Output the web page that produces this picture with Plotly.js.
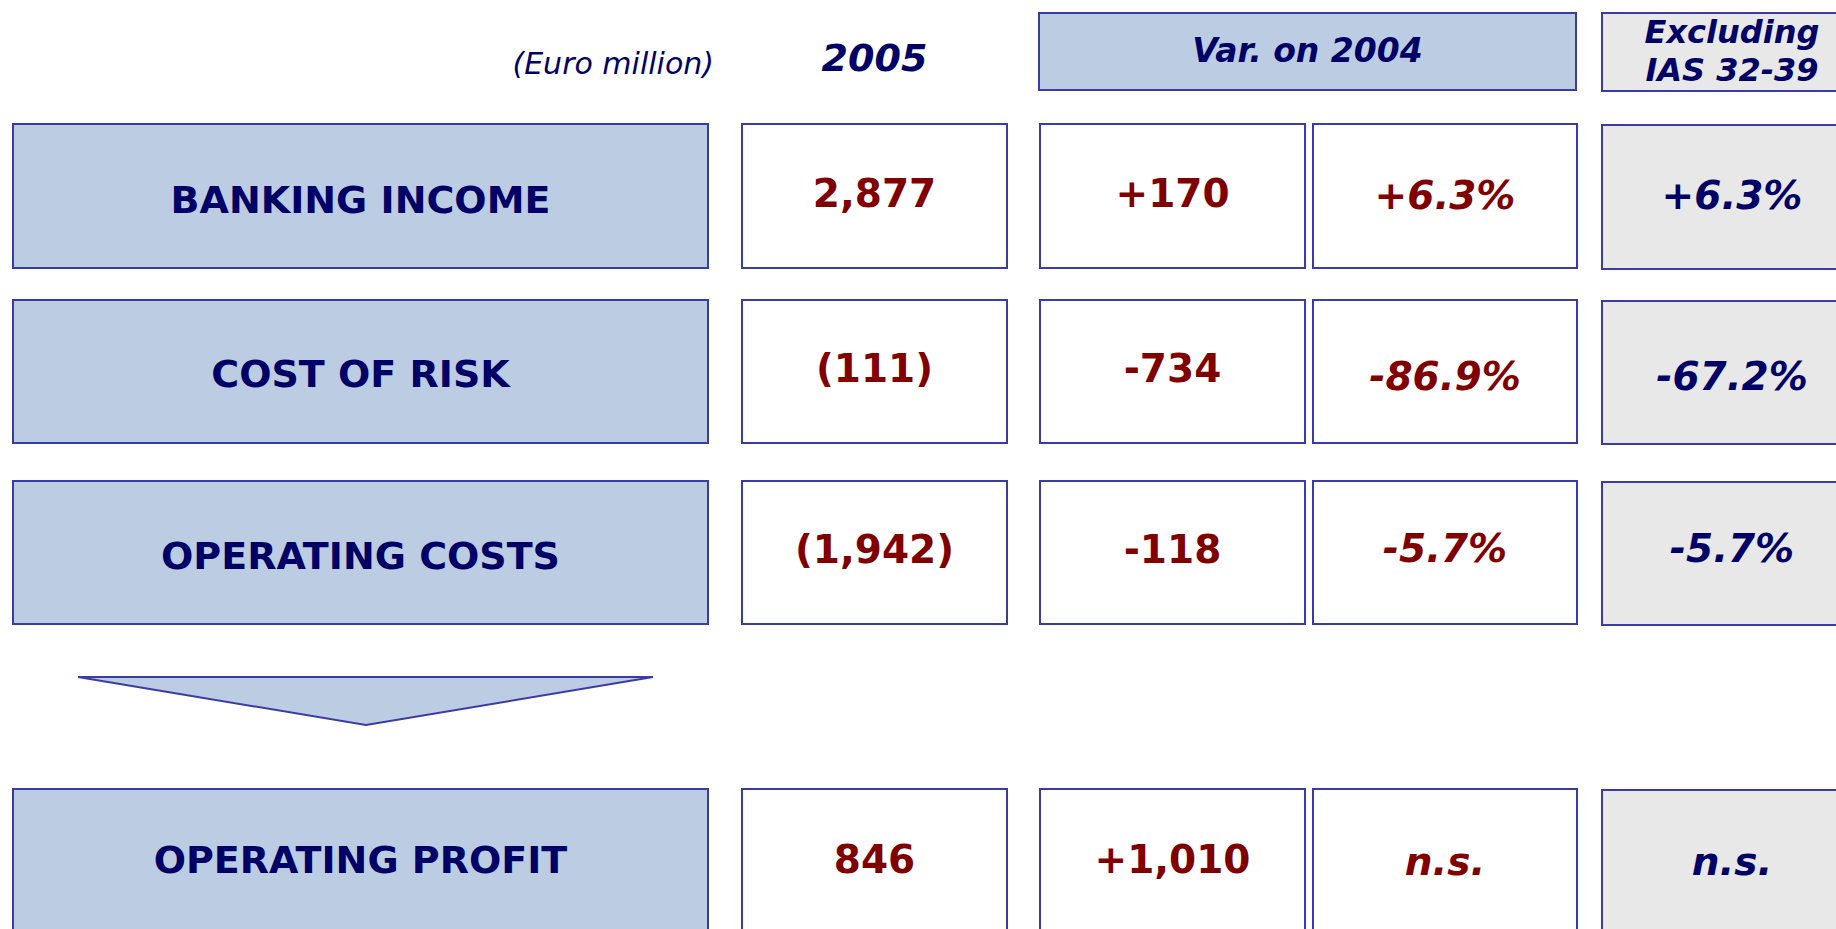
<!DOCTYPE html>
<html>
<head>
<meta charset="utf-8">
<script src="https://cdn.plot.ly/plotly-3.0.1.min.js"></script>
<style>html,body{margin:0;padding:0;background:#fff;}#chart{width:1836px;height:929px;}</style>
</head>
<body>
<div id="chart"></div>
<script>
// ---- data ----
const categories = ['BANKING INCOME', 'COST OF RISK', 'OPERATING COSTS', 'OPERATING PROFIT'];
const values2005 = ['2,877', '(111)', '(1,942)', '846'];
const varAbs = ['+170', '-734', '-118', '+1,010'];
const varPct = ['+6.3%', '-86.9%', '-5.7%', 'n.s.'];
const exclIAS = ['+6.3%', '-67.2%', '-5.7%', 'n.s.'];
const unitLabel = '(Euro million)';
const yearLabel = '2005';
const varHeader = 'Var. on 2004';
const exclHeaderLines = ['Excluding', 'IAS 32-39'];

// ---- layout geometry (pixel-like axis units) ----
const W = 1836, H = 929;
const cols = {
  label: [13, 708],
  y2005: [742, 1007],
  vAbs: [1040, 1305],
  vPct: [1313, 1577],
  excl: [1602, 1862]
};
const rows = [[124, 268], [300, 443], [481, 624], [789, 935]];
const labelDy = [7, 6, 7, 1];
const valueDy = [1, 1, 1, 1];
const pctDy = [3, 9, 0, 3];
const varHeadBox = [1039, 1576, 13, 90];
const exclHeadBox = [1602, 1862, 13, 91];
const arrow = [[78, 677], [653, 677], [366, 725]];

const NAVY = '#000066', RED = '#800000', EDGE = '#3b3ba8', BLUE = '#bccde3', GREY = '#e8e8e8';
const FONT = 'DejaVu Sans, Verdana, sans-serif';

const shapes = [];
function box(x0, x1, y0, y1, fill) {
  shapes.push({type: 'rect', xref: 'x', yref: 'y', x0: x0, x1: x1, y0: y0, y1: y1,
    fillcolor: fill, line: {color: EDGE, width: 2}, layer: 'below'});
}
rows.forEach((r, i) => {
  box(cols.label[0], cols.label[1], r[0], r[1], BLUE);
  box(cols.y2005[0], cols.y2005[1], r[0], r[1], '#ffffff');
  box(cols.vAbs[0], cols.vAbs[1], r[0], r[1], '#ffffff');
  box(cols.vPct[0], cols.vPct[1], r[0], r[1], '#ffffff');
  box(cols.excl[0], cols.excl[1], r[0] + 1, r[1] + 1, GREY);
});
box(varHeadBox[0], varHeadBox[1], varHeadBox[2], varHeadBox[3], BLUE);
box(exclHeadBox[0], exclHeadBox[1], exclHeadBox[2], exclHeadBox[3], GREY);
shapes.push({type: 'path', xref: 'x', yref: 'y',
  path: 'M' + arrow.map(p => p[0] + ',' + p[1]).join(' L') + ' Z',
  fillcolor: BLUE, line: {color: EDGE, width: 2}, layer: 'below'});

const mid = a => (a[0] + a[1]) / 2;
const rowMid = rows.map(mid);

function textTrace(x, y, text, color, size, bold, italic) {
  return {
    type: 'scatter', mode: 'text', x: x, y: y, text: text,
    textposition: 'middle center', hoverinfo: 'skip', showlegend: false,
    textfont: {family: FONT, size: size, color: color,
      weight: bold ? 'bold' : 'normal', style: italic ? 'italic' : 'normal'}
  };
}

const traces = [
  textTrace(rowMid.map(() => mid(cols.label)), rowMid.map((y, i) => y + labelDy[i]), categories, NAVY, 38, true, false),
  textTrace(rowMid.map(() => mid(cols.y2005)), rowMid.map((y, i) => y + valueDy[i]), values2005, RED, 39, true, false),
  textTrace(rowMid.map(() => mid(cols.vAbs)), rowMid.map((y, i) => y + valueDy[i]), varAbs, RED, 39, true, false),
  textTrace(rowMid.map(() => mid(cols.vPct)), rowMid.map((y, i) => y + pctDy[i]), varPct, RED, 39, true, true),
  textTrace(rowMid.map(() => mid(cols.excl)), rowMid.map((y, i) => y + pctDy[i]), exclIAS, NAVY, 39, true, true),
  textTrace([mid(cols.y2005)], [61], [yearLabel], NAVY, 38, true, true),
  textTrace([mid([varHeadBox[0], varHeadBox[1]])], [54], [varHeader], NAVY, 33, true, true),
  textTrace([1732, 1732], [35, 73], exclHeaderLines, NAVY, 32, true, true),
  {
    type: 'scatter', mode: 'text', x: [714], y: [66], text: [unitLabel],
    textposition: 'middle left', hoverinfo: 'skip', showlegend: false,
    textfont: {family: FONT, size: 30, color: NAVY, style: 'italic'}
  }
];

const layout = {
  width: W, height: H,
  margin: {l: 0, r: 0, t: 0, b: 0, pad: 0},
  paper_bgcolor: '#ffffff', plot_bgcolor: '#ffffff',
  xaxis: {range: [0, W], visible: false, fixedrange: true},
  yaxis: {range: [H, 0], visible: false, fixedrange: true},
  shapes: shapes,
  showlegend: false
};

Plotly.newPlot('chart', traces, layout, {displayModeBar: false, staticPlot: true});
</script>
</body>
</html>
